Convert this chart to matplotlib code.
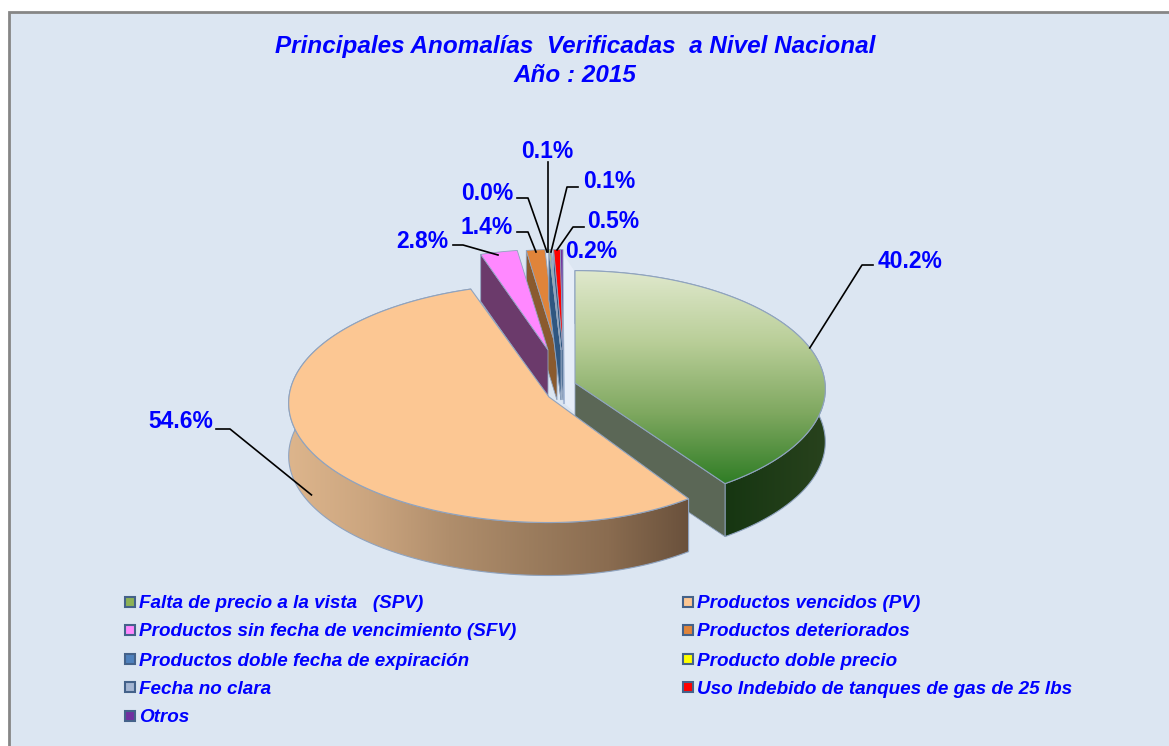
import numpy as np
import matplotlib
matplotlib.use("Agg")
import matplotlib.pyplot as plt
from matplotlib.patches import Polygon, Rectangle
from matplotlib.colors import LinearSegmentedColormap

categories = ["Falta de precio a la vista   (SPV)", "Productos vencidos (PV)",
              "Productos sin fecha de vencimiento (SFV)", "Productos deteriorados",
              "Productos doble fecha de expiración", "Producto doble precio",
              "Fecha no clara", "Uso Indebido de tanques de gas de 25 lbs", "Otros"]
values = [40.2, 54.6, 2.8, 1.4, 0.0, 0.1, 0.1, 0.5, 0.2]
title_lines = ["Principales Anomalías  Verificadas  a Nivel Nacional", "Año : 2015"]

# styles / layout
colors = ["#8DB255", "#FCC793", "#FF88FF", "#E0843A", "#4F81BD", "#FFFF00", "#A5B6D3", "#FF0000", "#7030A0"]
face_colors = ["#5B6756", "#8A6A4A", "#6B3A6B", "#8A5A2E", "#2F5680", "#2F5680", "#2F5680", "#2F5680", "#3A4E80"]
apex = [(575, 383), (549, 397), (548, 350), (557, 350), (561, 350), (561, 350), (561, 350), (563, 350), (563, 350)]
radius_left = [1.0, 1.04, 0.89, 0.89, 0.89, 0.89, 0.89, 0.89, 0.89]
radius_right = [1.0, 0.93, 0.89, 0.89, 0.89, 0.89, 0.89, 0.89, 0.89]
radius_y = [1.0, 1.01, 0.89, 0.89, 0.89, 0.89, 0.89, 0.89, 0.89]
RX, RY, K, DEPTH = 250, 118, 0.05, 53
BLUE = "#0000FF"
EDGE = "#8FA3BF"

W, H = 1169, 746
plt.rcParams["font.family"] = ["Liberation Sans", "DejaVu Sans"]
fig = plt.figure(figsize=(W / 100, H / 100), dpi=100, facecolor="white")
ax = fig.add_axes([0, 0, 1, 1])
ax.set_xlim(0, W)
ax.set_ylim(H, 0)
ax.axis("off")
ax.add_patch(Rectangle((9, 12), W + 20, H + 20, fc="#DCE6F2", ec="#868686", lw=2, zorder=0))

fractions = np.array(values) / sum(values) * 2 * np.pi
ends = np.cumsum(fractions)
starts = ends - fractions


def project(i, theta, z=0.0):
    s = np.sin(theta)
    X = s * np.where(s < 0, radius_left[i], radius_right[i])
    Y = np.cos(theta) * radius_y[i]
    p = 1 / (1 + K * Y)
    return np.column_stack([apex[i][0] + RX * X * p, apex[i][1] - RY * Y * p + z])


def arc(i, t0, t1, z=0.0, n=160):
    return project(i, np.linspace(t0, t1, n), z)


def gradient(points, stops, zorder, horizontal=True):
    xs, ys = points[:, 0], points[:, 1]
    cmap = LinearSegmentedColormap.from_list("g", stops)
    arr = np.linspace(0, 1, 256)
    arr = arr[None, :] if horizontal else arr[:, None]
    im = ax.imshow(arr, cmap=cmap, aspect="auto", zorder=zorder, interpolation="bilinear",
                   extent=[xs.min(), xs.max(), ys.max(), ys.min()])
    clip = Polygon(points, closed=True, transform=ax.transData, fc="none", ec="none")
    ax.add_patch(clip)
    im.set_clip_path(clip)
    ax.add_patch(Polygon(points, closed=True, fc="none", ec=EDGE, lw=0.8, zorder=zorder + 0.1))


def top(i):
    return np.vstack([[apex[i]], arc(i, starts[i], ends[i])])


def cut(i, theta, z=DEPTH):
    o = project(i, np.array([theta]))[0]
    a = np.array(apex[i], float)
    return np.array([a, o, o + [0, z], a + [0, z]])


# pale band behind the small slices
ax.add_patch(Polygon([(562, 252), (575, 272), (575, 413), (564, 403)], closed=True,
                     fc="#E6EDF8", ec="none", zorder=1))
ax.plot([562, 564], [252, 403], color="#A9BBD8", lw=1.5, zorder=1.1)

# small slices, back to front as the reference stacks them
z = 2.0
ax.add_patch(Polygon(cut(3, starts[3], 50), closed=True, fc=face_colors[3], ec=EDGE, lw=0.6, zorder=z))
ax.add_patch(Polygon(top(3), closed=True, fc=colors[3], ec=EDGE, lw=0.6, zorder=z + 0.05))
z += 0.1
for i in [8, 7, 6, 5, 4]:
    ax.add_patch(Polygon(cut(i, starts[i], 50), closed=True, fc=face_colors[i], ec=EDGE, lw=0.6, zorder=z))
    z += 0.01
for i in [4, 5, 6, 7, 8]:
    ax.add_patch(Polygon(top(i), closed=True, fc=colors[i], ec=EDGE, lw=0.6, zorder=z))
    z += 0.01
ax.add_patch(Polygon(cut(2, starts[2], 47), closed=True, fc=face_colors[2], ec=EDGE, lw=0.6, zorder=z))
ax.add_patch(Polygon(top(2), closed=True, fc=colors[2], ec=EDGE, lw=0.6, zorder=z + 0.01))

# peach slice
outer = arc(1, starts[1], ends[1])
gradient(np.vstack([outer, arc(1, ends[1], starts[1], DEPTH)]),
         ["#DDB58C", "#CBA57F", "#B08E6C", "#9C7D5E", "#8A6C50", "#6A513C"], 4)
ax.add_patch(Polygon(top(1), closed=True, fc=colors[1], ec=EDGE, lw=0.8, zorder=5))

# green slice
outer = arc(0, starts[0], ends[0])
gradient(np.vstack([outer, arc(0, ends[0], starts[0], DEPTH)]), ["#10300D", "#12330F", "#28421D"], 3)
ax.add_patch(Polygon(cut(0, ends[0]), closed=True, fc=face_colors[0], ec=EDGE, lw=0.6, zorder=3.5))
gradient(top(0), ["#DFE8CC", "#B9CE98", "#7FA860", "#2F7D25"], 3.6, horizontal=False)
ax.set_xlim(0, W)
ax.set_ylim(H, 0)

# data labels with leader lines
labels = [f"{v:.1f}%" for v in values]
label_pos = [(910, 262), (181, 422), (422, 242), (487, 228), (487, 194), (547, 152), (609, 182), (613, 221), (591, 252)]
leaders = [[(862, 265), (873, 265)], [(230, 429), (216, 429)], [(463, 245), (453, 245)],
           [(528, 232), (517, 232)], [(528, 198), (517, 198)], [(548, 162)],
           [(567, 187), (578, 187)], [(573, 227), (584, 227)], []]
tips = [project(0, np.array([(starts[0] + ends[0]) / 2]))[0],
        project(1, np.array([(starts[1] + ends[1]) / 2]), 43)[0],
        (498, 255), (536, 252), (547, 252), (548, 252), (551, 252), (557, 250), None]
for lab, pos, lead, tip in zip(labels, label_pos, leaders, tips):
    ax.text(pos[0], pos[1], lab, color=BLUE, fontsize=16.5, fontweight="bold", ha="center", va="center", zorder=9)
    if tip is not None:
        pts = np.vstack([[tip], lead])
        ax.plot(pts[:, 0], pts[:, 1], color="black", lw=1.2, zorder=8)

# title
for line, y in zip(title_lines, (47, 76)):
    ax.text(575, y, line, color=BLUE, fontsize=17.5, fontweight="bold", fontstyle="italic", ha="center", va="center")

# legend
legend_y = [604, 632, 661, 689, 718]
for n, (cat, col) in enumerate(zip(categories, colors)):
    row, column = n // 2, n % 2
    x0 = (125, 683)[column]
    y = legend_y[row]
    ax.add_patch(Rectangle((x0, y - 7), 10, 10, fc=col, ec="#44628A", lw=1.5, zorder=6))
    ax.text(x0 + 14, y, cat, color=BLUE, fontsize=13.55, fontweight="bold", fontstyle="italic", ha="left", va="center")

fig.savefig("out.png", dpi=100, facecolor="white")
